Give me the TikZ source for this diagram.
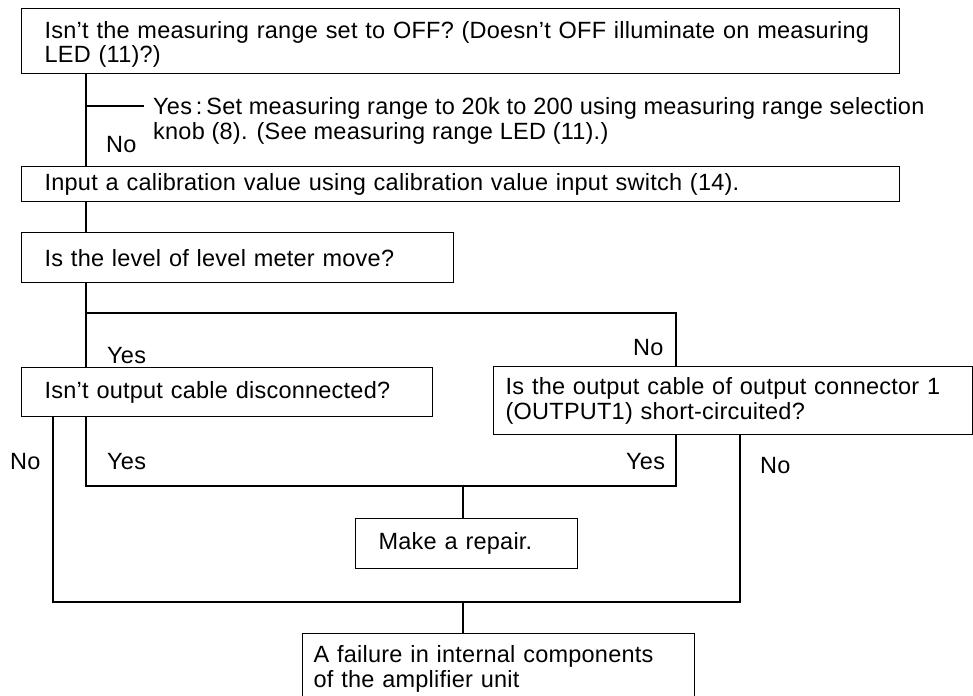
\documentclass[tikz,border=0pt]{standalone}
\usepackage{fontspec}
\newfontfamily\labfont{Liberation Sans}[LetterSpace=1]
\begin{document}
\begin{tikzpicture}[x=1pt,y=-1pt,
  every node/.style={font=\labfont\fontsize{23.5}{25}\selectfont},
  box/.style={draw, line width=1.3pt, anchor=north west, inner ysep=0pt, align=left},
  lbl/.style={anchor=base west, inner sep=0pt},
  conn/.style={line width=1.3pt}]
\clip (0,0) rectangle (973,695);
\fill[white] (0,0) rectangle (973,695);
% boxes
\node[box, inner xsep=23pt, minimum width=878pt, minimum height=65pt, text width=832pt,
  font=\labfont\fontsize{23.5}{24}\selectfont] (b1) at (21,8)
  {\rule{0pt}{24.4pt}Isn’t the measuring range set to OFF? (Doesn’t OFF illuminate on measuring\\LED (11)?)};
\node[box, inner xsep=23pt, minimum width=878pt, minimum height=35pt, text width=832pt] (b2) at (21,166)
  {Input a calibration value using calibration value input switch (14).};
\node[box, inner xsep=23pt, minimum width=432pt, minimum height=50pt, text width=386pt] (b3) at (21,232)
  {Is the level of level meter move?};
\node[box, inner xsep=23pt, minimum width=411pt, minimum height=49pt, text width=365pt] (b4) at (21,367)
  {Isn’t output cable disconnected?};
\node[box, inner xsep=12pt, minimum width=479pt, minimum height=68pt, text width=455pt] (b5) at (493,366)
  {Is the output cable of output connector 1\\(OUTPUT1) short-circuited?};
\node[box, inner xsep=23pt, minimum width=222pt, minimum height=50pt, text width=176pt] (b6) at (355,518)
  {Make a repair.};
\node[box, inner xsep=11pt, inner ysep=12pt, minimum width=392pt, text width=370pt] (b7) at (302,633)
  {A failure in internal components\\of the amplifier unit};
% labels
\node[lbl] (l1) at (153,115) {Yes\,:\,Set measuring range to 20k to 200 using measuring range selection};
\node[lbl] (l2) at (153,140) {knob (8). (See measuring range LED (11).)};
\node[lbl] (l3) at (106,153) {No};
\node[lbl] (l4) at (107,363) {Yes};
\node[lbl] (l5) at (633,355) {No};
\node[lbl] (l6) at (10,469) {No};
\node[lbl] (l7) at (107,469) {Yes};
\node[lbl] (l8) at (626,469) {Yes};
\node[lbl] (l9) at (760,473) {No};
% junction coordinates
\coordinate (t) at (86,106);
\coordinate (te) at (144,106);
\coordinate (j1) at (86,313);
\coordinate (j2) at (676,313);
\coordinate (yl) at (86,486);
\coordinate (yr) at (676,486);
\coordinate (ym) at (463,486);
\coordinate (ol) at (53,602);
\coordinate (or) at (740,602);
\coordinate (om) at (463,602);
% connectors
\draw[conn] (b1.south -| t) -- (b2.north -| t);
\draw[conn] (t) -- (te);
\draw[conn] (b2.south -| t) -- (b3.north -| t);
\draw[conn] (b3.south -| j1) -- (b4.north -| j1);
\draw[conn] (j1) -- (j2) -- (b5.north -| j2);
\draw[conn] (b4.south -| yl) -- (yl) -- (yr) -- (b5.south -| yr);
\draw[conn] (ym) -- (b6.north -| ym);
\draw[conn] (b4.south -| ol) -- (ol) -- (or) -- (b5.south -| or);
\draw[conn] (om) -- (b7.north -| om);
\end{tikzpicture}
\end{document}
